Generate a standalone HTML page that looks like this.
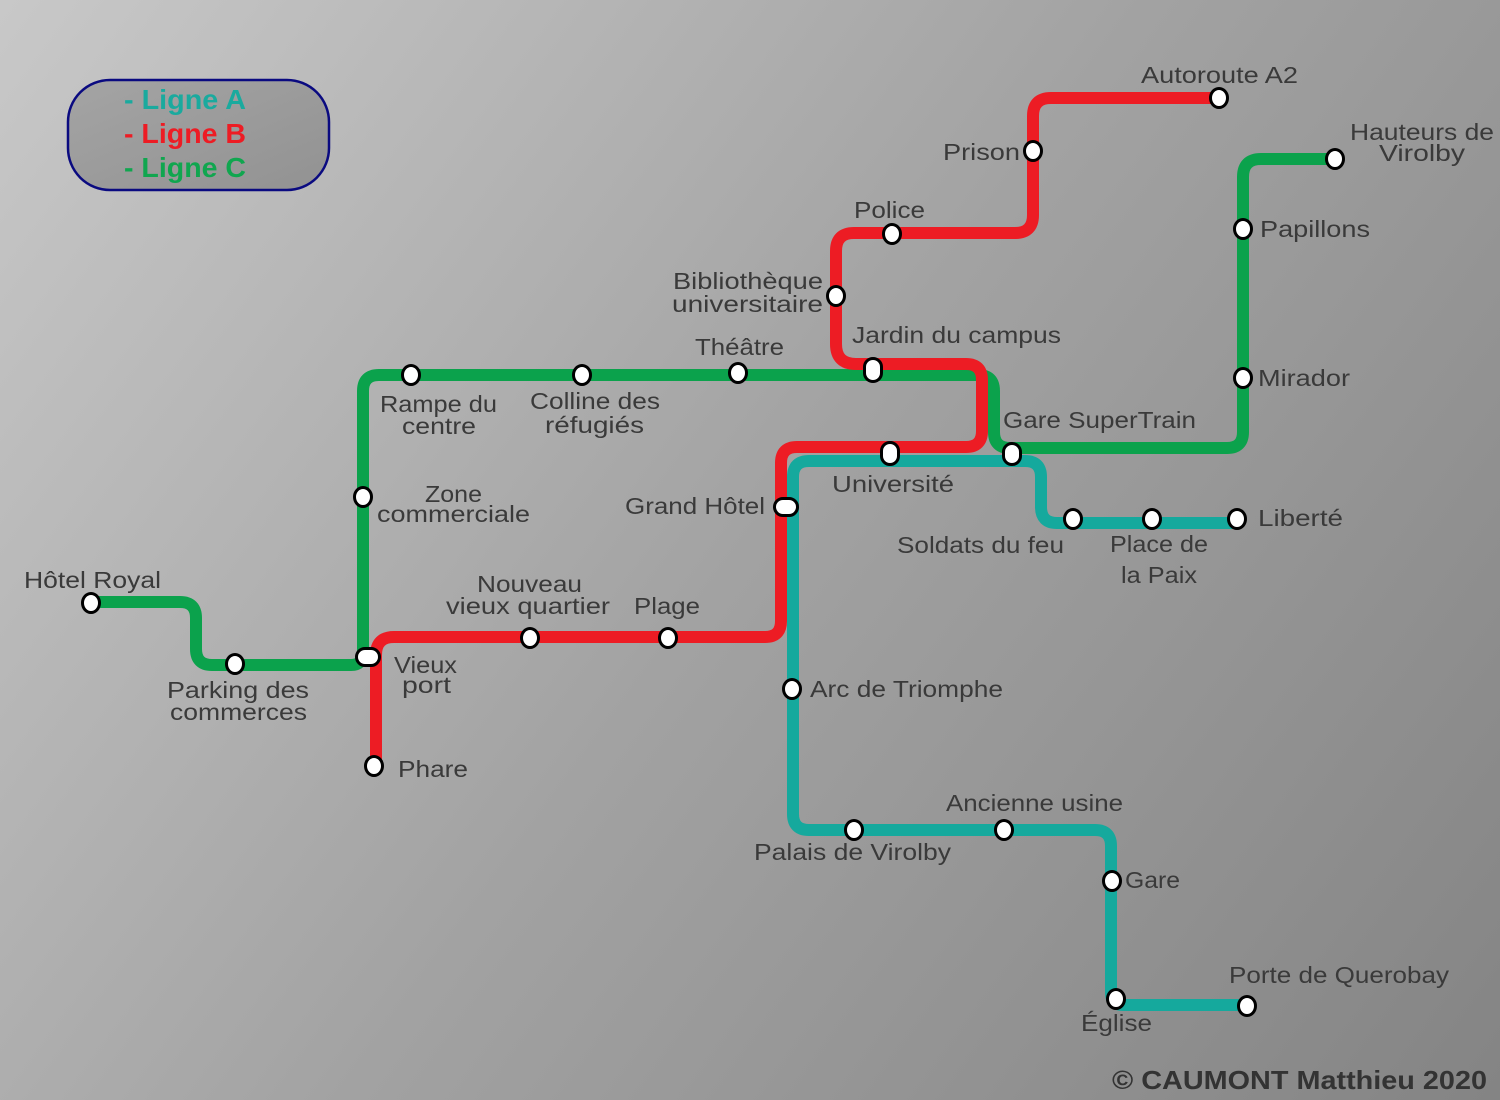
<!DOCTYPE html>
<html>
<head>
<meta charset="utf-8">
<style>
  html,body{margin:0;padding:0;}
  body{width:1500px;height:1100px;overflow:hidden;}
  svg{display:block;}
  .lb{font-family:"Liberation Sans",Arial,sans-serif;font-size:23px;fill:#3a3a3a;}
  .lg{font-family:"Liberation Sans",Arial,sans-serif;font-size:28px;font-weight:bold;}
</style>
</head>
<body>
<svg width="1500" height="1100" viewBox="0 0 1500 1100" xmlns="http://www.w3.org/2000/svg">
  <defs>
    <linearGradient id="bg" x1="0" y1="0" x2="1500" y2="1100" gradientUnits="userSpaceOnUse">
      <stop offset="0" stop-color="#c8c8c8"/>
      <stop offset="0.5" stop-color="#a2a2a2"/>
      <stop offset="1" stop-color="#848484"/>
    </linearGradient>
    <linearGradient id="lgbg" x1="0" y1="0" x2="1" y2="1">
      <stop offset="0" stop-color="#a4a4a4"/>
      <stop offset="1" stop-color="#929292"/>
    </linearGradient>
  </defs>
  <rect x="0" y="0" width="1500" height="1100" fill="url(#bg)"/>

  <!-- Legend -->
  <rect x="68" y="80" width="261" height="110" rx="42" ry="42" fill="url(#lgbg)" stroke="#0a0a80" stroke-width="2.5"/>
  <text class="lg" x="124" y="109" fill="#1aaa9e" textLength="122" lengthAdjust="spacingAndGlyphs">- Ligne A</text>
  <text class="lg" x="124" y="143" fill="#ed1c24" textLength="122" lengthAdjust="spacingAndGlyphs">- Ligne B</text>
  <text class="lg" x="124" y="177" fill="#10a64f" textLength="122" lengthAdjust="spacingAndGlyphs">- Ligne C</text>

  <g fill="none" stroke-width="12" stroke-linecap="butt" stroke-linejoin="round">
    <!-- Green line C -->
    <path stroke="#0ba24c" d="M91 602 H180 Q196 602 196 618 V649 Q196 665 212 665 H351 Q363 665 363 653 V391 Q363 375 379 375 H978 Q994 375 994 391 V432 Q994 448 1010 448 H1227 Q1243 448 1243 432 V177 Q1243 159 1261 159 H1335"/>
    <!-- Teal line A -->
    <path stroke="#15a99d" d="M1237 523 H1057 Q1041 523 1041 507 V477 Q1041 461 1025 461 H809 Q793 461 793 477 V814 Q793 830 809 830 H1095 Q1111 830 1111 846 V993 Q1111 1005 1123 1005 H1247"/>
    <!-- Red line B -->
    <path stroke="#ed1c24" d="M1219 98 H1051 Q1033 98 1033 116 V215 Q1033 233 1015 233 H854 Q836 233 836 251 V344 Q836 364 856 364 H966 Q982 364 982 380 V431 Q982 447 966 447 H797 Q781 447 781 463 V621 Q781 637 765 637 H394 Q376 637 376 655 V766"/>
  </g>

  <!-- Stations -->
  <g fill="#ffffff" stroke="#000000" stroke-width="3">
    <!-- red -->
    <ellipse cx="1219" cy="98" rx="8.5" ry="9.5"/>
    <ellipse cx="1033" cy="151" rx="8.5" ry="9.5"/>
    <ellipse cx="892" cy="234" rx="8.5" ry="9.5"/>
    <ellipse cx="836" cy="296" rx="8.5" ry="9.5"/>
    <ellipse cx="530" cy="638" rx="8.5" ry="9.5"/>
    <ellipse cx="668" cy="638" rx="8.5" ry="9.5"/>
    <ellipse cx="374" cy="766" rx="8.5" ry="9.5"/>
    <!-- green -->
    <ellipse cx="91" cy="603" rx="8.5" ry="9.5"/>
    <ellipse cx="235" cy="664" rx="8.5" ry="9.5"/>
    <ellipse cx="363" cy="497" rx="8.5" ry="9.5"/>
    <ellipse cx="411" cy="375" rx="8.5" ry="9.5"/>
    <ellipse cx="582" cy="375" rx="8.5" ry="9.5"/>
    <ellipse cx="738" cy="373" rx="8.5" ry="9.5"/>
    <ellipse cx="1243" cy="378" rx="8.5" ry="9.5"/>
    <ellipse cx="1243" cy="229" rx="8.5" ry="9.5"/>
    <ellipse cx="1335" cy="159" rx="8.5" ry="9.5"/>
    <!-- teal -->
    <ellipse cx="792" cy="689" rx="8.5" ry="9.5"/>
    <ellipse cx="854" cy="830" rx="8.5" ry="9.5"/>
    <ellipse cx="1004" cy="830" rx="8.5" ry="9.5"/>
    <ellipse cx="1112" cy="881" rx="8.5" ry="9.5"/>
    <ellipse cx="1116" cy="999" rx="8.5" ry="9.5"/>
    <ellipse cx="1247" cy="1006" rx="8.5" ry="9.5"/>
    <ellipse cx="1073" cy="519" rx="8.5" ry="9.5"/>
    <ellipse cx="1152" cy="519" rx="8.5" ry="9.5"/>
    <ellipse cx="1237" cy="519" rx="8.5" ry="9.5"/>
    <!-- interchange ovals -->
    <rect x="864.5" y="358.5" width="17" height="23" rx="8.5" ry="8.5"/>
    <rect x="881.5" y="442.5" width="17" height="22" rx="8.5" ry="8.5"/>
    <rect x="1003.5" y="443.5" width="17" height="21" rx="8.5" ry="8.5"/>
    <rect x="774.5" y="498.5" width="23" height="17" rx="8.5" ry="8.5"/>
    <rect x="356.5" y="648.5" width="23" height="17" rx="8.5" ry="8.5"/>
  </g>

  <!-- Labels -->
  <g class="lb">
    <text x="1141" y="83" textLength="157" lengthAdjust="spacingAndGlyphs">Autoroute A2</text>
    <text x="943" y="160" textLength="77" lengthAdjust="spacingAndGlyphs">Prison</text>
    <text x="854" y="218" textLength="71" lengthAdjust="spacingAndGlyphs">Police</text>
    <text x="673" y="289" textLength="150" lengthAdjust="spacingAndGlyphs">Bibliothèque</text>
    <text x="672" y="312" textLength="151" lengthAdjust="spacingAndGlyphs">universitaire</text>
    <text x="852" y="343" textLength="209" lengthAdjust="spacingAndGlyphs">Jardin du campus</text>
    <text x="695" y="355" textLength="89" lengthAdjust="spacingAndGlyphs">Théâtre</text>
    <text x="1350" y="140" textLength="144" lengthAdjust="spacingAndGlyphs">Hauteurs de</text>
    <text x="1379" y="161" textLength="86" lengthAdjust="spacingAndGlyphs">Virolby</text>
    <text x="1260" y="237" textLength="110" lengthAdjust="spacingAndGlyphs">Papillons</text>
    <text x="1258" y="386" textLength="92" lengthAdjust="spacingAndGlyphs">Mirador</text>
    <text x="1003" y="428" textLength="193" lengthAdjust="spacingAndGlyphs">Gare SuperTrain</text>
    <text x="832" y="492" textLength="122" lengthAdjust="spacingAndGlyphs">Université</text>
    <text x="1258" y="526" textLength="85" lengthAdjust="spacingAndGlyphs">Liberté</text>
    <text x="897" y="553" textLength="167" lengthAdjust="spacingAndGlyphs">Soldats du feu</text>
    <text x="1110" y="552" textLength="98" lengthAdjust="spacingAndGlyphs">Place de</text>
    <text x="1121" y="583" textLength="76" lengthAdjust="spacingAndGlyphs">la Paix</text>
    <text x="625" y="514" textLength="140" lengthAdjust="spacingAndGlyphs">Grand Hôtel</text>
    <text x="380" y="412" textLength="117" lengthAdjust="spacingAndGlyphs">Rampe du</text>
    <text x="402" y="434" textLength="74" lengthAdjust="spacingAndGlyphs">centre</text>
    <text x="530" y="409" textLength="130" lengthAdjust="spacingAndGlyphs">Colline des</text>
    <text x="545" y="433" textLength="99" lengthAdjust="spacingAndGlyphs">réfugiés</text>
    <text x="425" y="502" textLength="57" lengthAdjust="spacingAndGlyphs">Zone</text>
    <text x="377" y="522" textLength="153" lengthAdjust="spacingAndGlyphs">commerciale</text>
    <text x="24" y="588" textLength="137" lengthAdjust="spacingAndGlyphs">Hôtel Royal</text>
    <text x="167" y="698" textLength="142" lengthAdjust="spacingAndGlyphs">Parking des</text>
    <text x="170" y="720" textLength="137" lengthAdjust="spacingAndGlyphs">commerces</text>
    <text x="477" y="592" textLength="105" lengthAdjust="spacingAndGlyphs">Nouveau</text>
    <text x="446" y="614" textLength="164" lengthAdjust="spacingAndGlyphs">vieux quartier</text>
    <text x="634" y="614" textLength="66" lengthAdjust="spacingAndGlyphs">Plage</text>
    <text x="394" y="673" textLength="63" lengthAdjust="spacingAndGlyphs">Vieux</text>
    <text x="402" y="693" textLength="49" lengthAdjust="spacingAndGlyphs">port</text>
    <text x="398" y="777" textLength="70" lengthAdjust="spacingAndGlyphs">Phare</text>
    <text x="810" y="697" textLength="193" lengthAdjust="spacingAndGlyphs">Arc de Triomphe</text>
    <text x="946" y="811" textLength="177" lengthAdjust="spacingAndGlyphs">Ancienne usine</text>
    <text x="754" y="860" textLength="197" lengthAdjust="spacingAndGlyphs">Palais de Virolby</text>
    <text x="1125" y="888" textLength="55" lengthAdjust="spacingAndGlyphs">Gare</text>
    <text x="1229" y="983" textLength="220" lengthAdjust="spacingAndGlyphs">Porte de Querobay</text>
    <text x="1081" y="1031" textLength="71" lengthAdjust="spacingAndGlyphs">Église</text>
  </g>

  <text x="1112" y="1089" font-family="'Liberation Sans',Arial,sans-serif" font-size="26" font-weight="bold" fill="#333333" textLength="375" lengthAdjust="spacingAndGlyphs">© CAUMONT Matthieu 2020</text>
</svg>
</body>
</html>
